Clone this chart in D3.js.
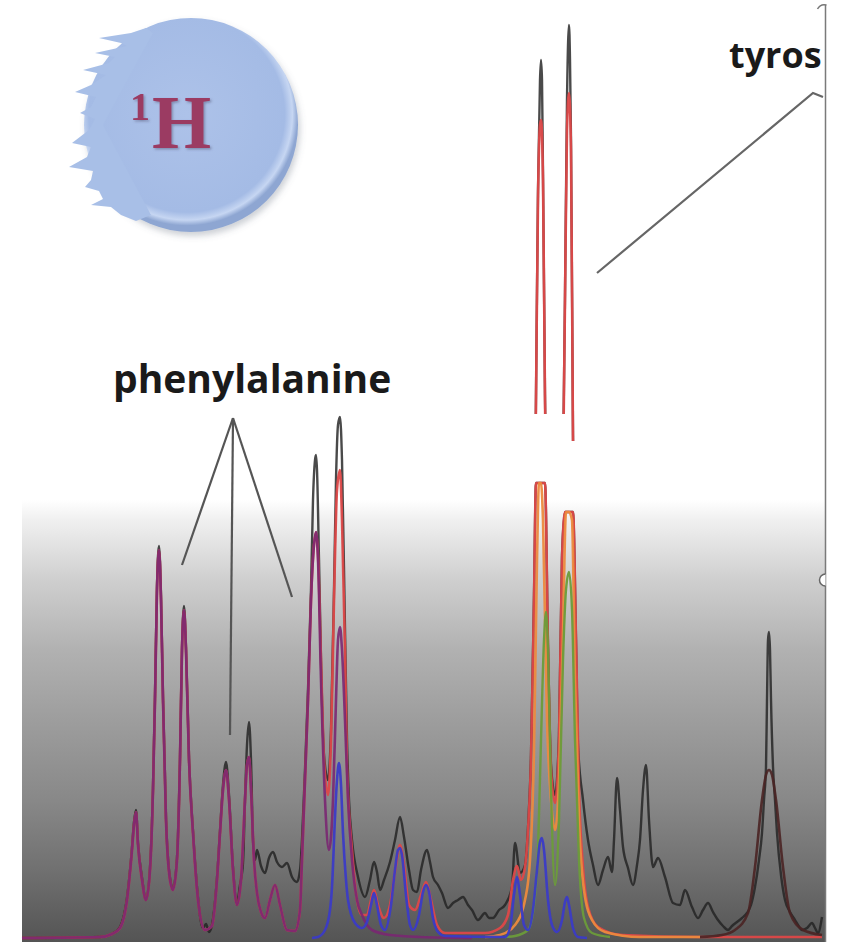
<!DOCTYPE html>
<html>
<head>
<meta charset="utf-8">
<script src="https://cdn.jsdelivr.net/npm/d3@7"></script>
<style>
  html, body { margin: 0; padding: 0; background: #fff; }
  svg { display: block; }
</style>
</head>
<body>
<div id="spectrum"></div>
<script>
"use strict";

// [chemical shift (ppm), intensity (a.u.)]

// measured spectrum
const rawSpectrum = [
  [7.450,0.0],[7.372,0.1],[7.360,0.4],[7.352,1.1],[7.345,4.0],[7.340,9.0],[7.338,11.6],[7.336,12.8],[7.334,9.5],[7.330,6.0],
  [7.326,3.8],[7.322,7.0],[7.319,15.0],[7.317,24.3],[7.315,35.3],[7.313,39.2],[7.311,34.3],[7.309,24.1],[7.306,12.0],[7.302,6.0],
  [7.299,5.0],[7.295,8.0],[7.292,18.0],[7.290,29.0],[7.288,33.2],[7.286,29.0],[7.283,18.0],[7.279,10.7],[7.274,4.0],[7.269,1.0],
  [7.266,1.4],[7.263,0.6],[7.260,1.3],[7.255,6.0],[7.252,10.7],[7.249,15.3],[7.246,17.6],[7.243,14.3],[7.239,7.0],[7.235,3.5],
  [7.232,5.3],[7.229,7.5],[7.227,13.8],[7.225,19.3],[7.223,21.6],[7.221,17.8],[7.219,9.8],[7.217,7.8],[7.215,8.8],[7.211,7.2],
  [7.207,6.5],[7.203,8.0],[7.199,8.6],[7.195,7.6],[7.190,7.1],[7.185,7.5],[7.180,6.1],[7.175,5.6],[7.172,6.8],[7.170,9.8],
  [7.167,16.8],[7.164,24.8],[7.161,34.8],[7.159,43.8],[7.157,47.8],[7.156,48.3],[7.155,46.8],[7.153,37.8],[7.151,27.8],[7.148,18.3],
  [7.144,15.8],[7.141,20.8],[7.138,34.8],[7.136,45.8],[7.134,51.3],[7.132,52.1],[7.130,47.8],[7.127,30.8],[7.125,19.8],[7.123,13.8],
  [7.120,9.8],[7.114,6.1],[7.107,4.1],[7.102,5.8],[7.098,7.6],[7.095,6.6],[7.092,4.8],[7.088,5.8],[7.082,7.6],[7.077,9.8],
  [7.072,12.1],[7.068,10.1],[7.063,6.8],[7.059,4.8],[7.055,4.6],[7.051,6.8],[7.045,8.8],[7.042,7.6],[7.039,6.1],[7.034,5.3],
  [7.030,4.5],[7.024,3.0],[7.019,3.5],[7.014,3.8],[7.009,4.1],[7.004,3.3],[7.000,2.8],[6.994,1.8],[6.987,2.5],[6.983,2.0],
  [6.979,2.0],[6.973,2.8],[6.967,3.3],[6.960,5.1],[6.957,9.5],[6.952,6.5],[6.947,7.3],[6.944,11.0],[6.941,18.3],[6.938,34.3],
  [6.936,54.3],[6.934,74.8],[6.932,85.8],[6.931,87.8],[6.930,85.8],[6.929,76.3],[6.927,54.3],[6.924,29.3],[6.921,17.3],[6.917,14.3],
  [6.913,20.3],[6.910,38.3],[6.907,64.3],[6.905,83.8],[6.903,91.3],[6.902,87.8],[6.901,79.8],[6.899,50.3],[6.896,29.8],[6.894,19.3],
  [6.889,13.8],[6.884,9.8],[6.879,7.3],[6.874,5.3],[6.869,6.8],[6.864,8.1],[6.860,6.6],[6.858,9.8],[6.855,16.0],[6.852,12.8],
  [6.849,9.1],[6.844,7.0],[6.839,5.3],[6.835,7.3],[6.832,9.8],[6.829,14.8],[6.826,17.3],[6.823,11.8],[6.819,7.1],[6.814,8.0],
  [6.807,6.1],[6.799,3.5],[6.792,3.3],[6.787,4.8],[6.780,3.1],[6.774,2.0],[6.769,2.8],[6.764,3.5],[6.759,2.6],[6.754,1.8],
  [6.749,1.2],[6.744,0.8],[6.740,1.2],[6.735,1.6],[6.730,2.0],[6.725,2.5],[6.721,3.3],[6.717,5.1],[6.713,7.8],[6.710,10.5],
  [6.708,13.8],[6.706,17.1],[6.705,23.8],[6.704,29.8],[6.703,30.6],[6.702,28.8],[6.701,23.8],[6.699,17.1],[6.697,13.8],[6.695,10.5],
  [6.691,6.3],[6.687,3.8],[6.682,2.6],[6.677,1.8],[6.674,1.3],[6.670,0.8],[6.665,1.0],[6.660,1.5],[6.657,1.0],[6.654,0.5],
  [6.650,2.1]
];

// summed fit (red)
const totalFit = [
  [7.450,0.0],[7.372,0.1],[7.360,0.4],[7.352,1.0],[7.345,3.8],[7.340,8.8],[7.338,11.3],[7.336,12.6],[7.334,9.3],[7.330,5.8],
  [7.326,3.8],[7.322,6.8],[7.319,14.8],[7.317,23.8],[7.315,34.8],[7.313,38.8],[7.311,33.8],[7.309,23.8],[7.306,11.8],[7.302,5.8],
  [7.299,4.8],[7.295,7.8],[7.292,17.8],[7.290,28.8],[7.288,32.8],[7.286,28.8],[7.283,17.8],[7.279,10.5],[7.274,3.8],[7.267,0.8],
  [7.260,1.2],[7.255,5.8],[7.252,10.5],[7.249,14.8],[7.246,16.8],[7.243,13.8],[7.239,6.8],[7.235,3.3],[7.231,5.8],[7.227,13.8],
  [7.225,17.3],[7.223,18.1],[7.221,14.8],[7.218,7.8],[7.215,4.5],[7.211,2.6],[7.207,2.0],[7.202,3.8],[7.197,5.3],[7.192,3.3],
  [7.185,0.8],[7.177,0.7],[7.172,2.8],[7.170,7.8],[7.167,15.8],[7.164,23.8],[7.161,33.8],[7.158,39.3],[7.156,40.6],[7.154,38.3],
  [7.151,27.8],[7.148,17.8],[7.144,14.3],[7.141,19.8],[7.138,33.8],[7.135,44.8],[7.132,46.8],[7.130,41.8],[7.127,28.8],[7.125,17.1],
  [7.120,8.8],[7.115,3.8],[7.110,2.3],[7.105,2.3],[7.101,3.8],[7.098,4.8],[7.094,3.3],[7.088,2.0],[7.082,3.3],[7.076,7.3],
  [7.072,9.3],[7.068,7.3],[7.063,3.3],[7.057,2.8],[7.051,4.3],[7.046,5.6],[7.041,3.8],[7.035,1.3],[7.027,0.5],[6.987,0.5],
  [6.972,1.0],[6.964,2.3],[6.959,5.8],[6.955,7.2],[6.951,5.8],[6.947,7.1],[6.944,10.8],[6.941,17.8],[6.938,33.8],[6.936,53.8],
  [6.934,73.8],[6.932,81.3],[6.931,81.8],[6.929,75.8],[6.927,53.8],[6.924,28.8],[6.921,16.8],[6.917,13.5],[6.913,19.8],[6.910,37.8],
  [6.907,63.8],[6.905,80.8],[6.903,84.5],[6.901,78.8],[6.899,49.8],[6.896,29.8],[6.893,14.8],[6.889,7.1],[6.884,3.1],[6.874,1.1],
  [6.850,0.3],[6.772,0.1],[6.650,0.1]
];

// phenylalanine component (purple)
const pheFit = [
  [7.450,0.0],[7.372,0.1],[7.360,0.4],[7.352,1.0],[7.345,3.8],[7.340,8.8],[7.338,11.3],[7.336,12.6],[7.334,9.3],[7.330,5.8],
  [7.326,3.8],[7.322,6.8],[7.319,14.8],[7.317,23.8],[7.315,34.8],[7.313,38.8],[7.311,33.8],[7.309,23.8],[7.306,11.8],[7.302,5.8],
  [7.299,4.8],[7.295,7.8],[7.292,17.8],[7.290,28.8],[7.288,32.8],[7.286,28.8],[7.283,17.8],[7.279,10.5],[7.274,3.8],[7.267,0.8],
  [7.260,1.2],[7.255,5.8],[7.252,10.5],[7.249,14.8],[7.246,16.8],[7.243,13.8],[7.239,6.8],[7.235,3.3],[7.231,5.8],[7.227,13.8],
  [7.225,17.3],[7.223,18.1],[7.221,14.8],[7.218,7.8],[7.215,4.5],[7.211,2.6],[7.207,2.0],[7.202,3.8],[7.197,5.3],[7.192,3.3],
  [7.185,0.8],[7.177,0.7],[7.172,2.8],[7.170,7.8],[7.167,15.8],[7.164,23.8],[7.161,33.8],[7.158,39.3],[7.156,40.6],[7.154,37.8],
  [7.151,25.8],[7.147,13.8],[7.143,8.8],[7.139,13.8],[7.136,23.8],[7.134,29.8],[7.132,31.1],[7.130,28.8],[7.127,21.8],[7.124,13.8],
  [7.120,7.8],[7.115,3.8],[7.110,2.3],[7.100,0.8],[7.082,0.3],[7.052,0.1],[7.000,0.0]
];

// tyrosine components (orange, green)
const tyrFitA = [
  [6.987,0.1],[6.972,0.3],[6.957,1.3],[6.947,3.8],[6.942,7.8],[6.938,18.8],[6.935,37.8],[6.933,46.8],[6.931,49.8],[6.929,41.8],
  [6.925,21.8],[6.921,13.8],[6.917,10.8],[6.913,15.8],[6.909,30.8],[6.906,43.8],[6.903,47.8],[6.900,41.8],[6.897,25.8],[6.893,11.8],
  [6.888,4.8],[6.880,1.8],[6.867,0.6],[6.832,0.1],[6.772,0.1]
];
const tyrFitB = [
  [6.967,0.1],[6.957,0.2],[6.944,0.8],[6.938,3.3],[6.934,8.8],[6.931,19.8],[6.928,29.8],[6.926,32.6],[6.924,28.8],[6.921,14.8],
  [6.917,5.3],[6.913,11.8],[6.909,27.8],[6.906,34.8],[6.903,36.6],[6.900,32.8],[6.897,19.8],[6.893,7.8],[6.888,2.0],[6.880,0.5],
  [6.862,0.1]
];

// third component (blue)
const thirdFit = [
  [7.160,0.0],[7.154,0.1],[7.147,0.8],[7.142,2.8],[7.140,5.1],[7.137,12.1],[7.135,15.8],[7.133,17.5],[7.131,15.3],[7.129,10.5],
  [7.126,5.8],[7.124,3.8],[7.117,1.5],[7.110,1.0],[7.105,1.6],[7.101,3.3],[7.098,4.5],[7.095,3.3],[7.091,1.3],[7.087,0.8],
  [7.081,3.3],[7.077,6.8],[7.074,8.8],[7.072,9.0],[7.070,8.3],[7.066,4.3],[7.062,1.3],[7.059,0.8],[7.053,2.3],[7.049,4.6],
  [7.046,5.3],[7.043,4.6],[7.039,2.0],[7.034,0.6],[7.027,0.2],[6.967,0.1],[6.962,1.0],[6.958,4.3],[6.955,6.1],[6.952,4.3],
  [6.948,1.3],[6.944,0.8],[6.939,2.8],[6.935,6.8],[6.932,9.6],[6.930,10.0],[6.928,8.8],[6.924,3.8],[6.920,1.3],[6.915,0.6],
  [6.910,1.8],[6.907,3.6],[6.905,4.1],[6.903,3.3],[6.899,1.0],[6.894,0.1],[6.885,0.0]
];

// singlet near 6.70 ppm (dark red)
const impurityFit = [
  [6.772,0.1],[6.750,0.3],[6.737,0.8],[6.724,2.5],[6.717,7.1],[6.710,13.8],[6.706,16.3],[6.703,16.8],[6.700,16.3],[6.696,13.8],
  [6.689,7.1],[6.682,2.5],[6.669,0.8],[6.650,0.3]
];

const width = 849, height = 942;

const x = d3.scaleLinear().domain([7.45, 6.647]).range([22, 825]);
const y = d3.scaleLinear().domain([0, 93.8]).range([938, 0]);

const svg = d3.select("#spectrum").append("svg")
    .attr("width", width)
    .attr("height", height);
const defs = svg.append("defs");

// grey backdrop of the lower half
const bg = defs.append("linearGradient").attr("id", "bgGrad")
    .attr("x1", 0).attr("y1", 0).attr("x2", 0).attr("y2", 1);
[[0, "#ffffff"], [0.045, "#f0f0f0"], [0.18, "#cfcfcf"], [0.34, "#b1b1b1"],
 [0.5, "#9d9d9d"], [0.68, "#888888"], [0.84, "#707070"], [1, "#545454"]]
  .forEach(s => bg.append("stop").attr("offset", s[0]).attr("stop-color", s[1]));

const bgTop = 500;
svg.append("rect")
    .attr("x", x.range()[0]).attr("y", bgTop)
    .attr("width", x.range()[1] - x.range()[0])
    .attr("height", height - bgTop)
    .attr("fill", "url(#bgGrad)");

// the tyrosine columns are cut: a white gap, then clipped lower parts
const colL = x(6.944), colM = x(6.916), colR = x(6.890);
const gapTop = y(52.4);
const capA = 45.5, capB = 42.6;

let clip = defs.append("clipPath").attr("id", "clipMain");
clip.append("rect").attr("x", 0).attr("y", 0).attr("width", colL).attr("height", height);
clip.append("rect").attr("x", colR).attr("y", 0).attr("width", x.range()[1] - colR).attr("height", height);
clip.append("rect").attr("x", colL).attr("y", 0).attr("width", colR - colL).attr("height", gapTop);
clip.append("rect").attr("x", x(6.902)).attr("y", gapTop).attr("width", x(6.894) - x(6.902)).attr("height", y(49.7) - gapTop);

defs.append("clipPath").attr("id", "clipLowA").append("rect")
    .attr("x", colL).attr("y", y(capA) - 2).attr("width", colM - colL).attr("height", height);
defs.append("clipPath").attr("id", "clipLowB").append("rect")
    .attr("x", colM).attr("y", y(capB) - 2).attr("width", colR - colM).attr("height", height);

const series = [
  { name: "spectrum", data: rawSpectrum, color: "#222222", width: 2.4, opacity: 0.82 },
  { name: "fit", data: totalFit, color: "#dd4848", width: 2.6, opacity: 0.95 },
  { name: "tyrosine A", data: tyrFitA, color: "#ec8a3e", width: 2.6, opacity: 0.95 },
  { name: "tyrosine B", data: tyrFitB, color: "#6c9c3a", width: 2.4, opacity: 0.95 },
  { name: "phenylalanine", data: pheFit, color: "#7a2772", width: 2.6, opacity: 0.9 },
  { name: "third", data: thirdFit, color: "#3b3bc6", width: 2.6, opacity: 0.95 },
  { name: "singlet", data: impurityFit, color: "#4a2424", width: 2.6, opacity: 0.9 }
];

function drawTraces(clipId, yScale) {
  const line = d3.line()
      .x(d => x(d[0]))
      .y(d => yScale(d[1]))
      .curve(d3.curveMonotoneX);
  svg.append("g")
      .attr("clip-path", `url(#${clipId})`)
    .selectAll("path")
    .data(series)
    .join("path")
      .attr("d", s => line(s.data))
      .attr("fill", "none")
      .attr("stroke", s => s.color)
      .attr("stroke-width", s => s.width)
      .attr("stroke-opacity", s => s.opacity)
      .attr("stroke-linejoin", "round");
}

drawTraces("clipMain", y);
drawTraces("clipLowA", d3.scaleLinear().domain([0, capA]).range([y(0), y(capA)]).clamp(true));
drawTraces("clipLowB", d3.scaleLinear().domain([0, capB]).range([y(0), y(capB)]).clamp(true));

// frame edge with its handles
const edge = x.range()[1] + 0.5;
svg.append("line")
    .attr("x1", edge).attr("x2", edge).attr("y1", 5).attr("y2", height)
    .attr("stroke", "#7a7a7a").attr("stroke-width", 1.5);
svg.append("path")
    .attr("d", `M${edge},574 A6,6 0 0 0 ${edge},586`)
    .attr("fill", "#fff").attr("stroke", "#666").attr("stroke-width", 1.5);
svg.append("path")
    .attr("d", `M${edge - 8},9 A8,8 0 0 1 ${edge + 1},5`)
    .attr("fill", "none").attr("stroke", "#777").attr("stroke-width", 1.5);

// labels and leader lines
const leader = d3.line().x(d => x(d[0])).y(d => y(d[1]));
const labelFont = "'Open Sans', 'DejaVu Sans', sans-serif";

svg.append("text")
    .attr("x", x(7.359)).attr("y", y(54.5))
    .attr("font-family", labelFont).attr("font-weight", 700).attr("font-size", 39)
    .attr("fill", "#1a1a1a")
    .text("phenylalanine");

const pheApex = [7.239, 52.0];
[[7.290, 37.3], [7.242, 20.3], [7.180, 34.1]].forEach(end => {
  svg.append("path")
      .attr("d", leader([pheApex, end]))
      .attr("fill", "none").attr("stroke", "#555").attr("stroke-width", 2.2);
});

// the label runs into the frame edge in the original; only "tyros" shows
svg.append("text")
    .attr("x", x(6.743)).attr("y", y(87.0))
    .attr("font-family", labelFont).attr("font-weight", 700).attr("font-size", 36)
    .attr("fill", "#1a1a1a")
    .text("tyros");
svg.append("path")
    .attr("d", leader([[6.875, 66.5], [6.659, 84.5], [6.649, 84.1]]))
    .attr("fill", "none").attr("stroke", "#666").attr("stroke-width", 2.2);

// 1H badge
const bf = defs.append("radialGradient").attr("id", "badgeFill")
    .attr("cx", "48%").attr("cy", "45%").attr("r", "52%");
[[0, "#adc2e9"], [0.88, "#a4bbe5"], [0.95, "#c6d6f2"], [1, "#8ea6d2"]]
  .forEach(s => bf.append("stop").attr("offset", s[0]).attr("stop-color", s[1]));
const shadow = defs.append("filter").attr("id", "badgeShadow")
    .attr("x", "-20%").attr("y", "-20%").attr("width", "140%").attr("height", "140%");
shadow.append("feDropShadow").attr("dx", 2).attr("dy", 4).attr("stdDeviation", 3)
    .attr("flood-color", "#5a6478").attr("flood-opacity", 0.3);
const textShadow = defs.append("filter").attr("id", "textShadow");
textShadow.append("feDropShadow").attr("dx", 1.5).attr("dy", 1.5).attr("stdDeviation", 1)
    .attr("flood-color", "#4a4a6a").attr("flood-opacity", 0.45);

const badgeR = 107;
const badge = svg.append("g").attr("transform", "translate(191,125)");
badge.append("circle").attr("r", badgeR)
    .attr("fill", "url(#badgeFill)")
    .attr("filter", "url(#badgeShadow)");

// torn left edge of the badge: horizontal brush streaks
const tear = [
  [-45,-97],[-60,-92],[-92,-87],[-70,-82],[-64,-79],[-96,-72],[-76,-68],[-82,-62],[-108,-55],[-85,-50],
  [-100,-40],[-116,-33],[-95,-28],[-100,-18],[-111,-12],[-96,-6],[-102,5],[-119,18],[-100,22],[-104,32],
  [-122,42],[-98,46],[-100,55],[-106,62],[-92,66],[-88,74],[-100,80],[-80,82],[-70,90],[-55,96],
  [-40,90],[-88,0],[-38,-92]
];
badge.append("path")
    .attr("d", d3.line().curve(d3.curveLinearClosed)(tear))
    .attr("fill", "#a8bfe7");

badge.append("text")
    .attr("x", 130 - 191).attr("y", 120 - 125)
    .attr("font-family", "'Liberation Serif', 'DejaVu Serif', serif")
    .attr("font-weight", 700).attr("font-size", 40)
    .attr("fill", "#9b3a62").attr("filter", "url(#textShadow)")
    .text("1");
badge.append("text")
    .attr("x", 152 - 191).attr("y", 148 - 125)
    .attr("font-family", "'Liberation Serif', 'DejaVu Serif', serif")
    .attr("font-weight", 700).attr("font-size", 76)
    .attr("fill", "#9b3a62").attr("filter", "url(#textShadow)")
    .text("H");
</script>
</body>
</html>
